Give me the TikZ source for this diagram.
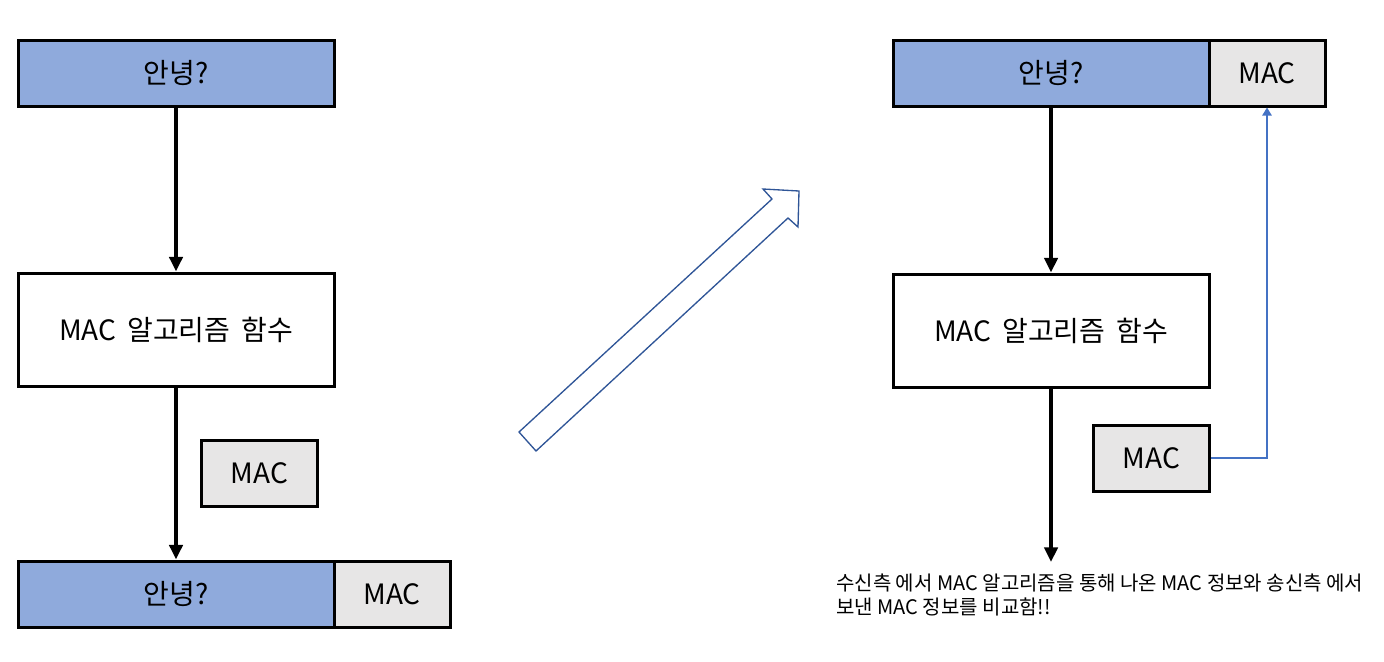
\documentclass[tikz,border=0pt]{standalone}
\usepackage{fontspec}
\setmainfont{Noto Sans CJK KR}
\usetikzlibrary{arrows.meta}
\definecolor{msgblue}{HTML}{8FAADC}
\definecolor{macgray}{HTML}{E7E6E6}
\definecolor{linkblue}{HTML}{4472C4}
\definecolor{bigblue}{HTML}{2F5597}

\begin{document}
\begin{tikzpicture}[x=0.75pt, y=-0.75pt,
  box/.style={draw, line width=2.25pt, minimum height=49.5pt, inner sep=0pt, font=\fontsize{21}{25}\selectfont},
  msgbox/.style={box, fill=msgblue, minimum width=237pt},
  macbox/.style={box, fill=macgray, minimum width=87pt},
  algbox/.style={box, fill=white, minimum width=237pt, minimum height=84.75pt},
  flow/.style={line width=2.6pt, -{Triangle[width=10pt,length=11pt]}},
  link/.style={linkblue, line width=1pt, -{Triangle[width=7pt,length=6pt]}}]
  \useasboundingbox (0,0) rectangle (1384,661);
  % sender side
  \node[msgbox] (lmsg) at (176,73) {안녕?};
  \node[algbox] (lalg) at (176,329.5) {MAC \,알고리즘 \,함수};
  \node[macbox] (lmac) at (259.5,473.5) {MAC};
  \node[msgbox] (lmsg2) at (176,594) {안녕?};
  \node[macbox] (lmac2) at (392,594) {MAC};
  \draw[flow] (lmsg.south) -- (lalg.north);
  \draw[flow] (lalg.south) -- (lmsg2.north);
  % hollow arrow
  \draw[bigblue, line width=1pt, line join=miter] (519,432) -- (772,199) -- (763,189) -- (799,191)
    -- (798,227) -- (788,218) -- (536,451) -- cycle;
  % receiver side
  \node[msgbox] (rmsg) at (1051,73) {안녕?};
  \node[macbox] (rmac) at (1267,73) {MAC};
  \node[algbox] (ralg) at (1051,330.5) {MAC \,알고리즘 \,함수};
  \node[macbox] (rmac2) at (1151.5,458) {MAC};
  \coordinate (rend) at (1051,562);
  \draw[flow] (rmsg.south) -- (ralg.north);
  \draw[flow] (ralg.south) -- (rend);
  \draw[link] (rmac2.east) -| (rmac.south);
  \node[anchor=north west, inner sep=0pt, align=left, font=\fontsize{15}{17.5}\selectfont] (note) at (836,574)
    {수신측 에서 MAC 알고리즘을 통해 나온 MAC 정보와 송신측 에서\\보낸 MAC 정보를 비교함!!};
\end{tikzpicture}
\end{document}
